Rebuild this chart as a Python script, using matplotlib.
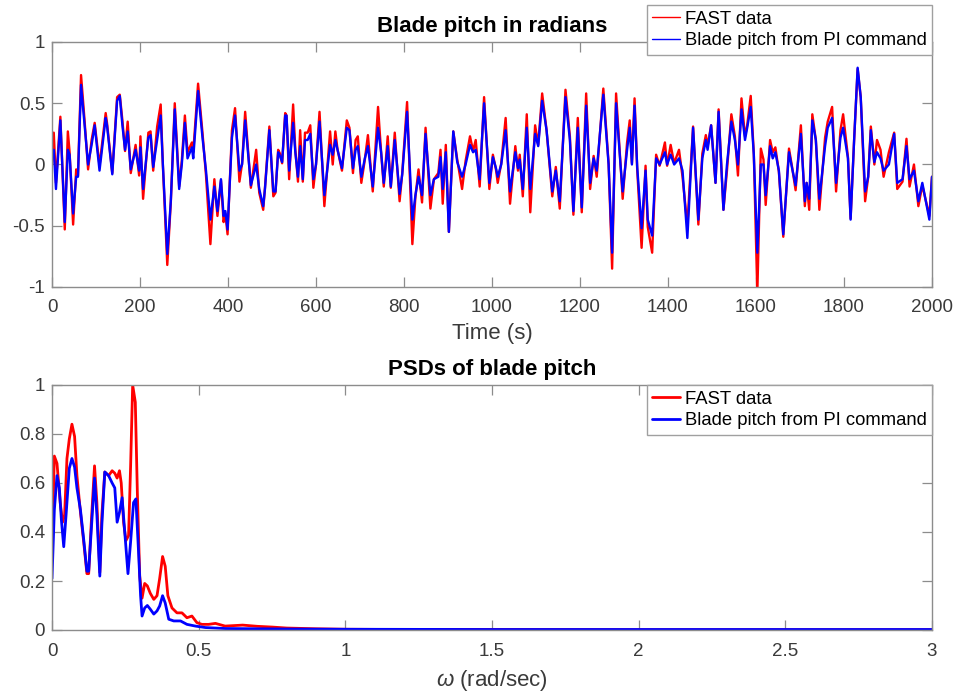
import matplotlib
matplotlib.use("Agg")
import matplotlib.pyplot as plt

# ---- Blade pitch time history (s, rad) ----
time_s = [
    0, 4, 9, 19, 29, 36, 40, 48, 55, 59, 66, 74, 82, 90, 97, 108, 122, 125, 137, 148,
    154, 160, 166, 172, 179, 190, 198, 201, 207, 219, 224, 230, 239, 247, 252, 262, 270, 279, 289, 295,
    302, 308, 318, 321, 332, 342, 350, 360, 369, 376, 384, 390, 394, 399, 409, 416, 426, 432, 439, 452,
    464, 471, 480, 484, 494,
    503, 508, 514, 518, 523, 530, 533, 539, 548, 553, 559, 564, 570, 575, 581, 587, 594, 600, 608, 619,
    632, 638, 644, 649, 659, 670, 676, 684, 690, 695, 703, 711, 718, 729, 741, 748, 754, 763, 770, 779,
    790, 796, 807, 819, 826, 833, 841, 849, 860, 868, 878, 883, 888, 895, 902, 912, 921, 932, 940, 950,
    957, 963, 972, 982, 994,
    1002, 1009, 1013, 1021, 1031, 1041, 1053, 1059, 1063, 1070, 1079, 1087, 1098, 1105, 1114, 1124, 1137, 1145, 1154, 1167,
    1177, 1185, 1195, 1204, 1214, 1223, 1231, 1238, 1253, 1265, 1273, 1282, 1292, 1297, 1307, 1313, 1318, 1324, 1330, 1340,
    1349, 1354, 1364, 1373, 1381, 1393, 1398, 1406, 1414, 1425, 1433, 1444, 1457, 1469,
    1478, 1486, 1490, 1498, 1508, 1515, 1526, 1534, 1544, 1552, 1559, 1567, 1575, 1580, 1588, 1595, 1603, 1611, 1617, 1622,
    1632, 1638, 1644, 1652, 1662, 1675, 1682, 1690, 1702, 1711, 1715, 1721, 1728, 1736, 1744, 1757, 1763, 1773, 1782, 1792,
    1798, 1809, 1815, 1823, 1831, 1838, 1848, 1855, 1861, 1869, 1875, 1883, 1890, 1902, 1914, 1921, 1933, 1942, 1949, 1959,
    1969, 1978, 1994, 2000,
]

fast_pitch = [
    0.00, 0.26, -0.15, 0.39, -0.53, 0.27, 0.10, -0.49, -0.04, -0.09, 0.73, 0.36, -0.04, 0.20, 0.34, -0.01, 0.42, 0.34, -0.07, 0.55,
    0.57, 0.36, 0.11, 0.35, -0.07, 0.16, -0.09, 0.23, -0.28, 0.26, 0.27, -0.05, 0.31, 0.49, -0.01, -0.82, -0.31, 0.50, -0.18, 0.03,
    0.40, 0.10, 0.18, 0.10, 0.66, 0.26, -0.09, -0.65, -0.12, -0.42, -0.13, -0.47, -0.40, -0.57, 0.28, 0.46, -0.14, 0.01, 0.43, -0.19,
    0.12, -0.23, -0.37, -0.19, 0.31,
    -0.26, -0.23, 0.12, 0.09, 0.01, 0.42, 0.40, -0.12, 0.49, 0.12, -0.14, 0.28, -0.14, 0.26, 0.26, 0.32, -0.19, 0.00, 0.43, -0.34,
    0.27, 0.00, 0.27, 0.12, -0.05, 0.36, 0.30, -0.07, 0.20, 0.23, -0.15, 0.04, 0.24, -0.22, 0.47, 0.10, -0.18, 0.23, -0.19, 0.26,
    -0.30, -0.07, 0.51, -0.65, -0.26, -0.04, -0.31, 0.30, -0.36, -0.12, -0.07, 0.12, -0.32, 0.16, -0.55, 0.27, 0.04, -0.20, 0.03, 0.23,
    0.11, 0.20, -0.18, 0.55, -0.20,
    0.08, -0.04, -0.15, 0.01, 0.38, -0.32, 0.15, -0.05, 0.08, -0.26, 0.41, -0.39, 0.32, 0.16, 0.58, 0.28, -0.26, -0.02, -0.36, 0.61,
    0.23, -0.41, 0.38, -0.39, 0.58, -0.20, 0.07, -0.10, 0.62, 0.01, -0.85, 0.58, 0.01, -0.28, 0.18, 0.36, 0.01, 0.54, -0.04, -0.68,
    -0.01, -0.51, -0.72, 0.08, -0.01, 0.18, -0.01, 0.16, 0.01, 0.12, -0.10, -0.50, 0.31, -0.49,
    0.09, 0.24, 0.15, 0.32, -0.15, 0.45, -0.37, -0.05, 0.41, 0.23, -0.09, 0.54, 0.23, 0.32, 0.56, 0.09, -1.05, 0.13, 0.04, -0.33,
    0.20, 0.10, 0.14, -0.06, -0.59, 0.13, -0.02, -0.21, 0.32, -0.34, -0.15, -0.37, 0.41, 0.20, -0.37, 0.22, 0.35, 0.47, -0.22, 0.28,
    0.41, 0.06, -0.44, 0.20, 0.78, 0.55, -0.30, -0.10, 0.31, 0.00, 0.20, 0.12, -0.10, 0.10, 0.26, -0.20, -0.14, 0.21, -0.18, 0.00,
    -0.34, -0.17, -0.42, -0.10,
]

pi_pitch = [
    0.08, 0.12, -0.20, 0.36, -0.47, 0.12, 0.08, -0.40, -0.10, -0.10, 0.65, 0.32, 0.00, 0.16, 0.32, -0.05, 0.38, 0.32, -0.08, 0.52,
    0.56, 0.32, 0.12, 0.27, -0.04, 0.12, -0.05, 0.14, -0.20, 0.22, 0.24, -0.02, 0.20, 0.40, 0.00, -0.73, -0.30, 0.45, -0.20, 0.00,
    0.34, 0.05, 0.14, 0.05, 0.60, 0.22, -0.05, -0.45, -0.18, -0.38, -0.12, -0.42, -0.38, -0.53, 0.22, 0.40, -0.05, 0.00, 0.36, -0.17,
    0.00, -0.20, -0.34, -0.20, 0.28,
    -0.22, -0.22, 0.10, 0.07, 0.02, 0.40, 0.40, -0.05, 0.34, 0.10, -0.10, 0.15, -0.12, 0.20, 0.20, 0.25, -0.12, 0.00, 0.35, -0.25,
    0.16, 0.08, 0.20, 0.12, -0.03, 0.30, 0.28, -0.03, 0.12, 0.15, -0.10, 0.05, 0.15, -0.18, 0.30, 0.10, -0.15, 0.15, -0.18, 0.20,
    -0.24, -0.08, 0.43, -0.45, -0.25, -0.10, -0.25, 0.25, -0.25, -0.12, -0.10, 0.06, -0.20, 0.10, -0.55, 0.27, 0.02, -0.10, 0.00, 0.16,
    0.10, 0.12, -0.12, 0.50, -0.15,
    0.06, -0.03, -0.10, 0.00, 0.28, -0.22, 0.10, -0.03, 0.04, -0.20, 0.30, -0.20, 0.25, 0.15, 0.52, 0.28, -0.22, -0.05, -0.30, 0.55,
    0.20, -0.38, 0.30, -0.35, 0.48, -0.15, 0.05, -0.05, 0.57, 0.00, -0.72, 0.50, 0.00, -0.22, 0.12, 0.30, 0.00, 0.48, -0.02, -0.52,
    -0.05, -0.45, -0.58, 0.05, 0.00, 0.10, 0.00, 0.08, 0.00, 0.05, -0.05, -0.60, 0.30, -0.45,
    0.05, 0.20, 0.12, 0.32, -0.15, 0.43, -0.37, 0.00, 0.35, 0.20, 0.00, 0.45, 0.20, 0.30, 0.47, 0.08, -0.72, 0.00, 0.00, -0.25,
    0.15, 0.05, 0.10, -0.05, -0.57, 0.10, -0.03, -0.17, 0.25, -0.30, -0.15, -0.28, 0.36, 0.20, -0.28, 0.15, 0.30, 0.38, -0.15, 0.22,
    0.30, 0.05, -0.45, 0.20, 0.79, 0.55, -0.22, -0.10, 0.28, 0.02, 0.10, 0.05, -0.05, 0.00, 0.25, -0.15, -0.12, 0.15, -0.12, -0.05,
    -0.30, -0.15, -0.45, -0.10,
]

# ---- Normalised PSDs (rad/sec) ----
omega_fast = [
    0.000, 0.008, 0.017, 0.028, 0.036, 0.043, 0.051, 0.059, 0.068, 0.077, 0.085, 0.097, 0.108, 0.119, 0.125, 0.134,
    0.145, 0.153, 0.163, 0.170, 0.180, 0.193, 0.205, 0.214, 0.222, 0.230, 0.236, 0.244, 0.252, 0.261, 0.268, 0.275,
    0.284, 0.291, 0.299, 0.307, 0.316, 0.325, 0.335, 0.347, 0.358, 0.367, 0.377, 0.386, 0.395, 0.409, 0.426, 0.443,
    0.460, 0.477, 0.494, 0.511, 0.534, 0.557, 0.590, 0.636, 0.650, 0.700, 0.750, 0.800, 0.900, 1.000, 1.200, 1.500,
    2.000, 2.500, 3.000,
]
psd_fast = [
    0.34, 0.71, 0.68, 0.52, 0.44, 0.47, 0.70, 0.78, 0.84, 0.79, 0.63, 0.48, 0.36, 0.23, 0.23, 0.44,
    0.67, 0.52, 0.235, 0.47, 0.645, 0.63, 0.65, 0.64, 0.62, 0.65, 0.60, 0.44, 0.365, 0.385, 0.67, 1.00,
    0.93, 0.56, 0.22, 0.13, 0.19, 0.18, 0.15, 0.125, 0.14, 0.21, 0.30, 0.26, 0.14, 0.09, 0.07, 0.07,
    0.05, 0.057, 0.03, 0.023, 0.023, 0.027, 0.016, 0.019, 0.020, 0.015, 0.012, 0.008, 0.005, 0.003, 0.002, 0.002,
    0.001, 0.001, 0.001,
]

omega_pi = [
    0.000, 0.008, 0.017, 0.025, 0.032, 0.040, 0.048, 0.059, 0.068, 0.077, 0.085, 0.097, 0.108, 0.119, 0.125, 0.134,
    0.145, 0.153, 0.163, 0.170, 0.180, 0.193, 0.205, 0.214, 0.222, 0.230, 0.239, 0.248, 0.259, 0.268, 0.278, 0.286,
    0.295, 0.302, 0.307, 0.316, 0.325, 0.335, 0.347, 0.358, 0.367, 0.377, 0.386, 0.398, 0.415, 0.438, 0.460, 0.489,
    0.523, 0.591, 0.700, 0.800, 1.000, 1.500, 2.000, 3.000,
]
psd_pi = [
    0.21, 0.49, 0.63, 0.58, 0.45, 0.34, 0.47, 0.66, 0.70, 0.665, 0.58, 0.49, 0.37, 0.24, 0.24, 0.41,
    0.62, 0.47, 0.22, 0.43, 0.645, 0.63, 0.60, 0.58, 0.44, 0.48, 0.54, 0.40, 0.23, 0.36, 0.52, 0.535,
    0.32, 0.14, 0.057, 0.09, 0.10, 0.085, 0.065, 0.078, 0.098, 0.14, 0.11, 0.044, 0.037, 0.037, 0.023, 0.016,
    0.010, 0.006, 0.005, 0.004, 0.003, 0.002, 0.002, 0.002,
]

time_ticks = list(range(0, 2001, 200))
pitch_ticks = [-1, -0.5, 0, 0.5, 1]
pitch_tick_labels = ["-1", "-0.5", "0", "0.5", "1"]
omega_ticks = [0, 0.5, 1, 1.5, 2, 2.5, 3]
omega_tick_labels = ["0", "0.5", "1", "1.5", "2", "2.5", "3"]
psd_ticks = [0, 0.2, 0.4, 0.6, 0.8, 1]
psd_tick_labels = ["0", "0.2", "0.4", "0.6", "0.8", "1"]

legend_labels = ["FAST data", "Blade pitch from PI command"]

plt.rcParams["font.family"] = ["Liberation Sans", "DejaVu Sans"]
plt.rcParams["mathtext.fontset"] = "custom"
plt.rcParams["mathtext.rm"] = "Liberation Sans"
plt.rcParams["mathtext.it"] = "Liberation Sans:italic"

SPINE = "#8c8c8c"
TEXT = "#3a3a3a"
W, H = 959, 698

fig = plt.figure(figsize=(W / 100, H / 100), dpi=100)
ax1 = fig.add_axes([52 / W, 1 - 287 / H, 880 / W, 245 / H])
ax2 = fig.add_axes([52 / W, 1 - 630 / H, 880 / W, 245 / H])


def style(ax):
    for s in ax.spines.values():
        s.set_color(SPINE)
        s.set_linewidth(1.0)
    ax.tick_params(direction="in", length=7, width=0.9, color=SPINE,
                   labelcolor=TEXT, labelsize=13.5, top=True, right=True)
    ax.tick_params(axis="x", pad=9)
    ax.tick_params(axis="y", pad=5)


line_kw = dict(solid_joinstyle="round", solid_capstyle="round")

# Top: time history
ax1.plot(time_s, fast_pitch, color=(1, 0, 0), lw=1.7, label=legend_labels[0], **line_kw)
ax1.plot(time_s, pi_pitch, color=(0, 0, 1), lw=1.7, label=legend_labels[1], **line_kw)
ax1.set_xlim(0, 2000)
ax1.set_ylim(-1, 1)
ax1.set_xticks(time_ticks)
ax1.set_yticks(pitch_ticks)
ax1.set_yticklabels(pitch_tick_labels)
style(ax1)
ax1.set_xlabel("Time (s)", fontsize=16, color=TEXT, labelpad=5)
ax1.set_title("Blade pitch in radians", fontsize=16, fontweight="bold", pad=7)
leg1 = ax1.legend(loc="upper right", bbox_to_anchor=(932 / W, 1 - 5 / H),
                  bbox_transform=fig.transFigure, borderaxespad=0, fontsize=13.3,
                  fancybox=False, framealpha=1, edgecolor="#a0a0a0",
                  handlelength=1.5, handletextpad=0.25, borderpad=0.3, labelspacing=0.25)
leg1.get_frame().set_linewidth(1.0)
for line in leg1.get_lines():
    line.set_linewidth(1.0)

# Bottom: power spectral densities
ax2.plot(omega_fast, psd_fast, color=(1, 0, 0), lw=2.0, label=legend_labels[0], **line_kw)
ax2.plot(omega_pi, psd_pi, color=(0, 0, 1), lw=2.0, label=legend_labels[1], **line_kw)
ax2.set_xlim(0, 3)
ax2.set_ylim(0, 1)
ax2.set_xticks(omega_ticks)
ax2.set_xticklabels(omega_tick_labels)
ax2.set_yticks(psd_ticks)
ax2.set_yticklabels(psd_tick_labels)
style(ax2)
ax2.set_xlabel(r"$\omega$ (rad/sec)", fontsize=16, color=TEXT, labelpad=6)
ax2.set_title("PSDs of blade pitch", fontsize=16, fontweight="bold", pad=7)
leg2 = ax2.legend(loc="upper right", borderaxespad=0, fontsize=13.3,
                  fancybox=False, framealpha=1, edgecolor="#a0a0a0",
                  handlelength=1.5, handletextpad=0.25, borderpad=0.3, labelspacing=0.25)
leg2.get_frame().set_linewidth(1.0)

fig.savefig("out.png", dpi=100, facecolor="white")
